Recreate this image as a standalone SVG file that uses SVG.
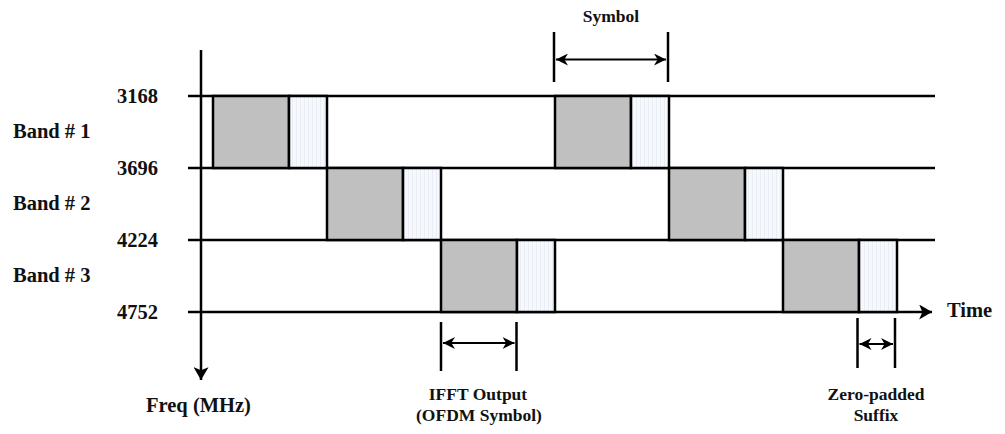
<svg xmlns="http://www.w3.org/2000/svg" width="1005" height="434" viewBox="0 0 1005 434">
  <style>
    .ln { stroke: #000; stroke-width: 2.5; fill: none; }
    .thin { stroke: #000; stroke-width: 2.2; fill: none; }
    .gray { fill: #c0c0c0; stroke: #000; stroke-width: 2.5; }
    .zp { fill: url(#stripes); stroke: #000; stroke-width: 2.5; }
    .lbl { font-family: "Liberation Serif", "Times New Roman", serif; font-weight: bold; font-size: 20.5px; fill: #111; }
    .sm { font-family: "Liberation Serif", "Times New Roman", serif; font-weight: bold; font-size: 17.5px; fill: #111; }
  </style>
  <defs>
    <pattern id="stripes" patternUnits="userSpaceOnUse" width="4" height="10">
      <rect width="4" height="10" fill="#f7f8fc"/>
      <rect x="0" width="1" height="10" fill="#e9edf6"/>
    </pattern>
    <marker id="ah" viewBox="0 0 10 10" refX="10" refY="5" markerWidth="12" markerHeight="12" markerUnits="userSpaceOnUse" orient="auto-start-reverse">
      <path d="M0,0 L10,5 L0,10 L3,5 Z" fill="#000"/>
    </marker>
    <marker id="big" viewBox="0 0 12 14" refX="12" refY="7" markerWidth="13" markerHeight="15" markerUnits="userSpaceOnUse" orient="auto">
      <path d="M0,0 L12,7 L0,14 L3,7 Z" fill="#000"/>
    </marker>
  </defs>

  <g id="axes">
    <line class="ln" x1="188" y1="96" x2="935" y2="96"/>
    <line class="ln" x1="188" y1="168" x2="935" y2="168"/>
    <line class="ln" x1="188" y1="240" x2="935" y2="240"/>
    <line class="ln" x1="188" y1="312" x2="932" y2="312" marker-end="url(#big)"/>
    <line class="ln" x1="201" y1="50" x2="201" y2="380" marker-end="url(#big)"/>
  </g>

  <g id="band1-sym1">
    <rect class="gray" x="213" y="96" width="76" height="72"/>
    <rect class="zp" x="289" y="96" width="38" height="72"/>
  </g>
  <g id="band2-sym1">
    <rect class="gray" x="327" y="168" width="76" height="72"/>
    <rect class="zp" x="403" y="168" width="38" height="72"/>
  </g>
  <g id="band3-sym1">
    <rect class="gray" x="441" y="240" width="76" height="72"/>
    <rect class="zp" x="517" y="240" width="38" height="72"/>
  </g>
  <g id="band1-sym2">
    <rect class="gray" x="555" y="96" width="76" height="72"/>
    <rect class="zp" x="631" y="96" width="38" height="72"/>
  </g>
  <g id="band2-sym2">
    <rect class="gray" x="669" y="168" width="76" height="72"/>
    <rect class="zp" x="745" y="168" width="38" height="72"/>
  </g>
  <g id="band3-sym2">
    <rect class="gray" x="783" y="240" width="76" height="72"/>
    <rect class="zp" x="859" y="240" width="38" height="72"/>
  </g>

  <g id="connectors">
    <line class="ln" x1="554" y1="32" x2="554" y2="82"/>
    <line class="ln" x1="668" y1="32" x2="668" y2="82"/>
    <line class="thin" x1="556" y1="59.5" x2="666" y2="59.5" marker-start="url(#ah)" marker-end="url(#ah)"/>
    <line class="ln" x1="441" y1="322" x2="441" y2="371"/>
    <line class="ln" x1="516.5" y1="322" x2="516.5" y2="371"/>
    <line class="thin" x1="443" y1="343" x2="514.5" y2="343" marker-start="url(#ah)" marker-end="url(#ah)"/>
    <line class="ln" x1="857.5" y1="318" x2="857.5" y2="368"/>
    <line class="ln" x1="895" y1="318" x2="895" y2="368"/>
    <line class="thin" x1="859.5" y1="344" x2="893" y2="344" marker-start="url(#ah)" marker-end="url(#ah)"/>
  </g>

  <g id="labels">
    <text class="lbl" x="158" y="103" text-anchor="end">3168</text>
    <text class="lbl" x="158" y="175" text-anchor="end">3696</text>
    <text class="lbl" x="158" y="247" text-anchor="end">4224</text>
    <text class="lbl" x="158" y="319" text-anchor="end">4752</text>
    <text class="lbl" x="13" y="138">Band # 1</text>
    <text class="lbl" x="13" y="210">Band # 2</text>
    <text class="lbl" x="13" y="282">Band # 3</text>
    <text class="lbl" x="146" y="412">Freq (MHz)</text>
    <text class="lbl" x="947" y="317" font-size="20">Time</text>
    <text class="sm" x="611" y="22" text-anchor="middle">Symbol</text>
    <text class="sm" x="478" y="400" text-anchor="middle">IFFT Output</text>
    <text class="sm" x="479" y="421" text-anchor="middle">(OFDM Symbol)</text>
    <text class="sm" x="876" y="400" text-anchor="middle">Zero-padded</text>
    <text class="sm" x="876" y="421" text-anchor="middle">Suffix</text>
  </g>
</svg>
